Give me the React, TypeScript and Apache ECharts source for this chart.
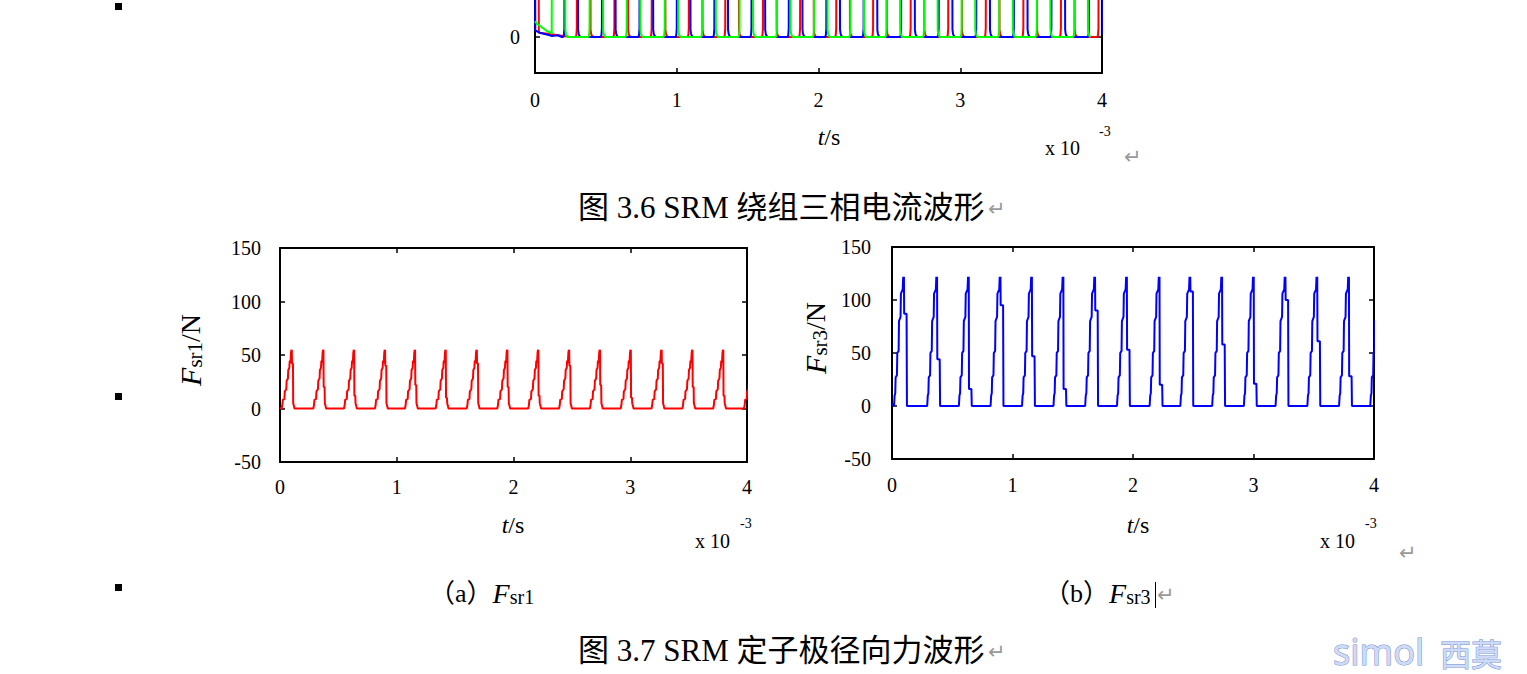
import React, { useEffect, useRef } from 'react';
import * as echarts from 'echarts';

const SERIF = "'Liberation Serif', 'Times New Roman', 'Noto Sans CJK SC', serif";

// ---------- axis ticks ----------
const timeTicks = [0, 1, 2, 3, 4];
const forceTicks = [-50, 0, 50, 100, 150];
const currentTicks = [0];

// ---------- Fig 3.6: three-phase winding currents (time in 1e-3 s) ----------
const currentTop = 20; // conduction level, above the visible part of the cropped plot
const redStart = [[0, 20], [0.025, 20], [0.027, 0.6], [0.09, 0.45], [0.13, 0.35], [0.2, 0.15], [0.25, 0]];
const redOn = [0.295, 0.56, 0.823, 1.085, 1.342, 1.608, 1.87, 2.125, 2.385, 2.65, 2.915, 3.18, 3.445, 3.71, 3.975];
const redOff = [0.39, 0.655, 0.918, 1.18, 1.437, 1.703, 1.965, 2.22, 2.48, 2.745, 3.01, 3.275, 3.54, 3.805, 4.07];
const blueStart = [[0, 20], [0.002, 0.9], [0.04, 0.55], [0.09, 0.3], [0.12, 0.15], [0.16, 0.25], [0.19, 0]];
const blueOn = [0.207, 0.472, 0.737, 1.0, 1.265, 1.527, 1.79, 2.055, 2.318, 2.583, 2.848, 3.113, 3.378, 3.643, 3.908];
const blueOff = [0.302, 0.567, 0.832, 1.095, 1.36, 1.622, 1.885, 2.15, 2.413, 2.678, 2.943, 3.208, 3.473, 3.738, 4.003];
const greenStart = [[0, 2.2], [0.01, 1.9], [0.08, 0.9], [0.118, 0.5], [0.119, 20], [0.212, 20], [0.214, 1.0], [0.218, 0.45], [0.224, 0.15], [0.232, 0]];
const greenOn = [0.385, 0.647, 0.915, 1.18, 1.443, 1.707, 1.968, 2.225, 2.48, 2.745, 3.01, 3.275, 3.54, 3.805];
const greenOff = [0.479, 0.741, 1.009, 1.274, 1.537, 1.801, 2.062, 2.319, 2.574, 2.839, 3.104, 3.369, 3.634, 3.899];
const riseEdge = [[-0.008, 0], [-0.003, 0.3], [0, 1.2], [0.002, 'top']];
const fallEdge = [[0, 'top'], [0.002, 1.0], [0.006, 0.45], [0.012, 0.15], [0.02, 0]];

// ---------- Fig 3.7 (a): Fsr1 ----------
const fsr1Onsets = [0.014, 0.285, 0.548, 0.813, 1.07, 1.333, 1.599, 1.861, 2.126, 2.39, 2.654, 2.918, 3.182, 3.446, 3.71, 3.974];
const fsr1Tails = [42, 20, 12, 40, 22, 10, 42, 20, 12, 40, 22, 10, 42, 20, 12, 40];
const fsr1Rise = [[0, 0], [0.006, 3], [0.01, 8], [0.024, 9], [0.027, 16], [0.04, 18], [0.043, 26], [0.054, 28], [0.057, 36], [0.066, 38], [0.069, 44], [0.077, 45], [0.08, 52], [0.084, 55], [0.086, 42], [0.087, 55]];
const fsr1TailSpan = [0.089, 0.097];
const fsr1FallEnd = [[0.099, 5], [0.106, 2], [0.11, 0]];

// ---------- Fig 3.7 (b): Fsr3 ----------
const fsr3Onsets = [0.017, 0.292, 0.555, 0.818, 1.079, 1.34, 1.603, 1.867, 2.138, 2.393, 2.657, 2.92, 3.183, 3.447, 3.71, 3.969];
const fsr3Tails = [87, 44, 16, 95, 47, 16, 90, 53, 20, 108, 58, 21, 100, 61, 28, 40];
const fsr3Rise = [[0, 0], [0.005, 10], [0.01, 12], [0.013, 27], [0.024, 29], [0.027, 50], [0.038, 52], [0.041, 80], [0.054, 84], [0.057, 106], [0.072, 110], [0.076, 122], [0.079, 110], [0.082, 122]];
const fsr3TailSpan = [0.084, 0.104];
const fsr3FallEnd = [[0.107, 0]];

function buildForce(start: any[], onsets: number[], tails: number[], rise: any[], span: number[], fallEnd: any[]) {
  const d: any[] = start.map((p) => [p[0], p[1]]);
  onsets.forEach((o, i) => {
    rise.forEach(([dt, v]) => d.push([o + dt, v]));
    d.push([o + span[0], tails[i]]);
    d.push([o + span[1], tails[i]]);
    fallEnd.forEach(([dt, v]) => d.push([o + dt, v]));
  });
  return d;
}

function buildCurrent(start: any[], ons: number[], offs: number[]) {
  const d: any[] = start.map((p) => [p[0], p[1]]);
  ons.forEach((r, i) => {
    riseEdge.forEach(([dt, v]) => d.push([r + (dt as number), v === 'top' ? currentTop : v]));
    fallEdge.forEach(([dt, v]) => d.push([offs[i] + (dt as number), v === 'top' ? currentTop : v]));
  });
  return d;
}

const black = '#000';
function xBottom(grid: number, margin: number) {
  return {
    type: 'value', gridIndex: grid, min: 0, max: 4, interval: 1, position: 'bottom',
    axisLine: { show: true, onZero: false, lineStyle: { color: black, width: 2 } },
    axisTick: { show: true, inside: true, length: 5, lineStyle: { color: black, width: 1.5 } },
    axisLabel: { show: true, color: black, fontFamily: SERIF, fontSize: 20, margin, customValues: timeTicks },
    splitLine: { show: false },
  };
}
function xTop(grid: number) {
  return {
    type: 'value', gridIndex: grid, min: 0, max: 4, interval: 1, position: 'top',
    axisLine: { show: true, onZero: false, lineStyle: { color: black, width: 2 } },
    axisTick: { show: true, inside: true, length: 5, lineStyle: { color: black, width: 1.5 } },
    axisLabel: { show: false },
    splitLine: { show: false },
  };
}
function yForce(grid: number, pos: string, margin: number) {
  return {
    type: 'value', gridIndex: grid, min: -50, max: 150, interval: 50, position: pos,
    axisLine: { show: true, onZero: false, lineStyle: { color: black, width: 2 } },
    axisTick: { show: true, inside: true, length: 5, lineStyle: { color: black, width: 1.5 } },
    axisLabel: { show: pos === 'left', color: black, fontFamily: SERIF, fontSize: 20, margin, customValues: forceTicks },
    splitLine: { show: false },
  };
}
function yCurrent(pos: string) {
  return {
    type: 'value', gridIndex: 0, min: -5, max: 5.14, position: pos,
    axisLine: { show: true, onZero: false, lineStyle: { color: black, width: 2 } },
    axisTick: { show: true, inside: true, length: 5, lineStyle: { color: black, width: 1.5 }, customValues: currentTicks },
    axisLabel: { show: pos === 'left', color: black, fontFamily: SERIF, fontSize: 20, margin: 15, customValues: currentTicks },
    splitLine: { show: false },
  };
}
function line(data: any[], color: string, xi: number, yi: number) {
  return {
    type: 'line', data, xAxisIndex: xi, yAxisIndex: yi, showSymbol: false, symbol: 'none',
    lineStyle: { color, width: 2 }, itemStyle: { color }, clip: true, silent: true, animation: false,
  };
}

function txt(x: number, y: number, text: string, size: number, extra: any = {}) {
  return {
    type: 'text', x, y, silent: true,
    style: {
      text, fontFamily: SERIF, fontSize: size, fill: black,
      align: extra.align || 'left', textAlign: extra.align || 'left',
      verticalAlign: 'middle', textVerticalAlign: 'middle',
      ...(extra.style || {}),
    },
    ...(extra.el || {}),
  };
}
const arrow = (x: number, y: number) => txt(x, y, '↵', 21, { style: { fill: '#9a9a9a', fontFamily: "'DejaVu Sans', sans-serif" } });
const tslabel = (x: number, y: number) => ({
  type: 'text', x, y, silent: true,
  style: {
    text: '{i|t}{n|/s}', align: 'center', textAlign: 'center', verticalAlign: 'middle', textVerticalAlign: 'middle',
    rich: {
      i: { fontFamily: SERIF, fontStyle: 'italic', fontSize: 24, fill: black },
      n: { fontFamily: SERIF, fontSize: 24, fill: black },
    },
  },
});
const sublabel = (x: number, y: number, sub: string, rot: boolean, prefix: string, suffix: string, size: number, align: string) => ({
  type: 'text', x, y, silent: true, rotation: rot ? Math.PI / 2 : 0,
  style: {
    text: (prefix ? '{n|' + prefix + '}' : '') + '{f|F}{s|' + sub + '}' + (suffix ? '{n|' + suffix + '}' : ''),
    align, textAlign: align, verticalAlign: 'middle', textVerticalAlign: 'middle',
    rich: {
      f: { fontFamily: SERIF, fontStyle: 'italic', fontSize: size, fill: black },
      s: { fontFamily: SERIF, fontSize: Math.round(size * 0.7), fill: black, verticalAlign: 'bottom', lineHeight: Math.round(size * 0.45) },
      n: { fontFamily: SERIF, fontSize: size * 0.93, fill: black },
    },
  },
});

export default function App() {
  const ref = useRef<HTMLDivElement>(null);
  useEffect(() => {
    if (!ref.current) return;
    const chart = echarts.init(ref.current, null, { renderer: 'svg' });
    const option: any = {
      animation: false,
      backgroundColor: '#fff',
      grid: [
        { left: 535, top: 0, width: 567, height: 73 },
        { left: 280, top: 248, width: 467, height: 214 },
        { left: 892, top: 247, width: 482, height: 212 },
      ],
      xAxis: [xBottom(0, 17), xBottom(1, 15), xTop(1), xBottom(2, 16), xTop(2)],
      yAxis: [yCurrent('left'), yCurrent('right'), yForce(1, 'left', 19), yForce(1, 'right', 19), yForce(2, 'left', 21), yForce(2, 'right', 21)],
      series: [
        line(buildCurrent(redStart, redOn, redOff), '#ff0000', 0, 0),
        line(buildCurrent(blueStart, blueOn, blueOff), '#0000ff', 0, 0),
        line(buildCurrent(greenStart, greenOn, greenOff), '#00ff00', 0, 0),
        line(buildForce([[0, 0.5]], fsr1Onsets, fsr1Tails, fsr1Rise, fsr1TailSpan, fsr1FallEnd), '#ff0000', 1, 2),
        line(buildForce([[0, 2]], fsr3Onsets, fsr3Tails, fsr3Rise, fsr3TailSpan, fsr3FallEnd), '#0000ff', 3, 4),
      ],
      graphic: [
        // bullets
        { type: 'rect', shape: { x: 115, y: 3, width: 7, height: 7 }, style: { fill: black }, silent: true },
        { type: 'rect', shape: { x: 115, y: 393, width: 7, height: 7 }, style: { fill: black }, silent: true },
        { type: 'rect', shape: { x: 115, y: 584, width: 7, height: 7 }, style: { fill: black }, silent: true },
        // fig 3.6 axis texts
        tslabel(829, 137),
        txt(1045, 148, 'x 10', 20),
        txt(1099, 131, '-3', 14),
        arrow(1124, 157),
        txt(578, 207, '图 3.6 SRM 绕组三相电流波形', 31),
        arrow(988, 209),
        // fig 3.7 (a)
        sublabel(190, 350, 'sr1', true, '', '/N', 30, 'center'),
        tslabel(513, 525),
        txt(695, 541, 'x 10', 20),
        txt(740, 523, '-3', 14),
        // fig 3.7 (b)
        sublabel(815, 338, 'sr3', true, '', '/N', 30, 'center'),
        tslabel(1138, 525),
        txt(1320, 541, 'x 10', 20),
        txt(1365, 523, '-3', 14),
        arrow(1399, 553),
        // sub captions
        sublabel(429, 593, 'sr1', false, '（a）', '', 28, 'left'),
        sublabel(1044, 593, 'sr3', false, '（b）', '', 28, 'left'),
        { type: 'line', shape: { x1: 1155.5, y1: 582, x2: 1155.5, y2: 608 }, style: { stroke: black, lineWidth: 1 }, silent: true },
        arrow(1157, 595),
        // caption 3.7
        txt(578, 650, '图 3.7 SRM 定子极径向力波形', 31),
        arrow(988, 652),
        // watermark
        txt(1333, 651, 'simol', 36, { style: { fontFamily: "'Noto Sans', sans-serif", fill: '#cfdbf5', stroke: '#6f90d6', lineWidth: 1 } }),
        txt(1440, 652, '西莫', 31, { style: { fontFamily: "'Noto Sans CJK SC', sans-serif", fill: '#cfdbf5', stroke: '#6f90d6', lineWidth: 1 } }),
      ],
    };
    chart.setOption(option);
    return () => chart.dispose();
  }, []);
  return <div ref={ref} style={{ position: 'absolute', left: 0, top: 0, width: 1527, height: 674, background: '#fff' }} />;
}
